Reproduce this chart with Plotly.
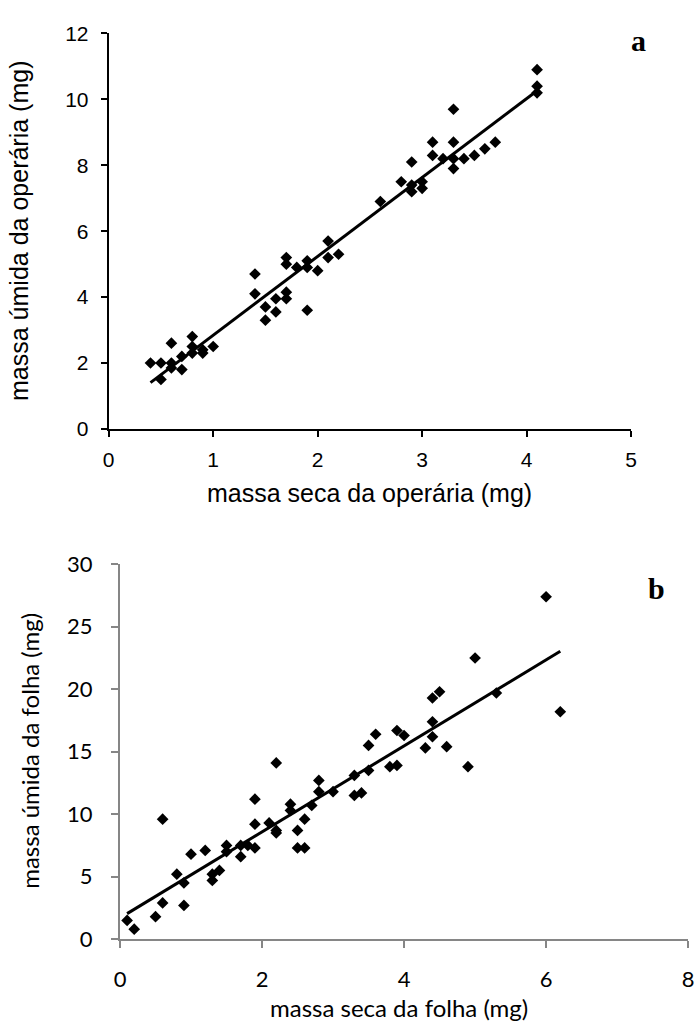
import numpy as np
import plotly.graph_objects as go

# Panel a: worker dry mass vs wet mass (mg)
a_dry = [0.4, 0.5, 0.5, 0.6, 0.6, 0.6, 0.7, 0.7, 0.8, 0.8, 0.8, 0.9, 0.9, 1.0,
         1.4, 1.4, 1.5, 1.5, 1.6, 1.6, 1.7, 1.7, 1.7, 1.7, 1.8, 1.9, 1.9, 1.9,
         2.0, 2.1, 2.1, 2.2, 2.6, 2.8, 2.9, 2.9, 2.9, 3.0, 3.0, 3.1, 3.1, 3.2,
         3.3, 3.3, 3.3, 3.3, 3.4, 3.5, 3.6, 3.7, 4.1, 4.1, 4.1]
a_wet = [2.0, 2.0, 1.5, 2.6, 2.0, 1.85, 2.2, 1.8, 2.8, 2.5, 2.3, 2.3, 2.4, 2.5,
         4.7, 4.1, 3.7, 3.3, 3.95, 3.55, 4.15, 3.95, 5.0, 5.2, 4.9, 5.1, 4.9, 3.6,
         4.8, 5.7, 5.2, 5.3, 6.9, 7.5, 8.1, 7.4, 7.2, 7.5, 7.3, 8.7, 8.3, 8.2,
         9.7, 8.7, 8.2, 7.9, 8.2, 8.3, 8.5, 8.7, 10.9, 10.4, 10.2]

# Panel b: leaf dry mass vs wet mass (mg)
b_dry = [0.1, 0.2, 0.5, 0.6, 0.6, 0.8, 0.9, 0.9, 1.0, 1.2, 1.3, 1.3, 1.4, 1.5,
         1.5, 1.7, 1.7, 1.8, 1.9, 1.9, 1.9, 2.1, 2.2, 2.2, 2.2, 2.4, 2.4, 2.5,
         2.5, 2.6, 2.6, 2.7, 2.8, 2.8, 3.0, 3.3, 3.3, 3.4, 3.5, 3.5, 3.6, 3.8,
         3.9, 3.9, 4.0, 4.3, 4.4, 4.4, 4.4, 4.5, 4.6, 4.9, 5.0, 5.3, 6.0, 6.2]
b_wet = [1.5, 0.8, 1.8, 9.6, 2.9, 5.2, 2.7, 4.5, 6.8, 7.1, 4.7, 5.2, 5.5, 7.5,
         7.0, 7.5, 6.6, 7.5, 11.2, 9.2, 7.3, 9.3, 8.7, 8.5, 14.1, 10.8, 10.3, 8.7,
         7.3, 9.6, 7.3, 10.7, 12.7, 11.8, 11.8, 13.1, 11.5, 11.7, 13.5, 15.5, 16.4, 13.8,
         13.9, 16.7, 16.3, 15.3, 19.3, 17.4, 16.2, 19.8, 15.4, 13.8, 22.5, 19.7, 27.4, 18.2]

a_xticks = [0, 1, 2, 3, 4, 5]
a_yticks = [0, 2, 4, 6, 8, 10, 12]
b_xticks = [0, 2, 4, 6, 8]
b_yticks = [0, 5, 10, 15, 20, 25, 30]

W, H = 700, 1034

def px_x(p):
    return p / W

def px_y(p):
    return 1 - p / H

def fit_line(x, y):
    x = np.asarray(x, float)
    y = np.asarray(y, float)
    k, b = np.polyfit(x, y, 1)
    xs = np.array([x.min(), x.max()])
    return xs, k * xs + b

fig = go.Figure()

mk = dict(symbol="diamond", size=9, color="black", line=dict(width=0))

fig.add_trace(go.Scatter(x=a_dry, y=a_wet, mode="markers", marker=mk,
                         xaxis="x", yaxis="y", showlegend=False))
lx, ly = fit_line(a_dry, a_wet)
fig.add_trace(go.Scatter(x=lx, y=ly, mode="lines", line=dict(color="black", width=3),
                         xaxis="x", yaxis="y", showlegend=False))

fig.add_trace(go.Scatter(x=b_dry, y=b_wet, mode="markers", marker=mk,
                         xaxis="x2", yaxis="y2", showlegend=False))
lx2, ly2 = fit_line(b_dry, b_wet)
fig.add_trace(go.Scatter(x=lx2, y=ly2, mode="lines", line=dict(color="black", width=3),
                         xaxis="x2", yaxis="y2", showlegend=False))

fa = dict(family="Liberation Sans, Arial, sans-serif", size=21, color="black")
fb = dict(family="Lato, Open Sans, sans-serif", size=22, color="black")

axa = dict(showgrid=False, zeroline=False, showline=True, linecolor="black", linewidth=2,
           ticks="outside", ticklen=6, tickwidth=2, tickcolor="black", tickfont=fa)
axb = dict(showgrid=False, zeroline=False, showline=True, linecolor="#868686", linewidth=2,
           ticks="outside", ticklen=7, tickwidth=2, tickcolor="#868686", tickfont=fb)

fig.update_layout(
    width=W, height=H,
    margin=dict(l=0, r=0, t=0, b=0),
    paper_bgcolor="white", plot_bgcolor="white",
    xaxis=dict(axa, domain=[px_x(104.5), px_x(636)], range=[0, 5], tickvals=a_xticks,
               anchor="y", ticklabelstandoff=5),
    yaxis=dict(axa, domain=[px_y(426), px_y(20)], range=[0, 12], tickvals=a_yticks,
               anchor="x", ticklabelstandoff=8),
    xaxis2=dict(axb, domain=[px_x(116), px_x(694)], range=[0, 8], tickvals=b_xticks,
                anchor="y2", ticklabelstandoff=12),
    yaxis2=dict(axb, domain=[px_y(950), px_y(565)], range=[0, 30], tickvals=b_yticks,
                anchor="x2", ticklabelstandoff=14),
)

ann = [
    dict(text="massa seca da operária (mg)", x=px_x(370), y=px_y(492), font=dict(fa, size=25)),
    dict(text="massa úmida da operária (mg)", x=px_x(13), y=px_y(223), font=dict(fa, size=25), textangle=-90),
    dict(text="massa seca da folha (mg)", x=px_x(400), y=px_y(1020), font=dict(fb, size=24)),
    dict(text="massa úmida da folha (mg)", x=px_x(24), y=px_y(757), font=dict(fb, size=24), textangle=-90),
    dict(text="<b>a</b>", x=px_x(644), y=px_y(27), font=dict(family="Liberation Serif, Times New Roman, serif", size=30, color="black")),
    dict(text="<b>b</b>", x=px_x(662), y=px_y(590), font=dict(family="Liberation Serif, Times New Roman, serif", size=30, color="black")),
]
for a in ann:
    a.update(xref="paper", yref="paper", showarrow=False, xanchor="center", yanchor="middle")
fig.update_layout(annotations=ann)

fig.write_html("out.html")
